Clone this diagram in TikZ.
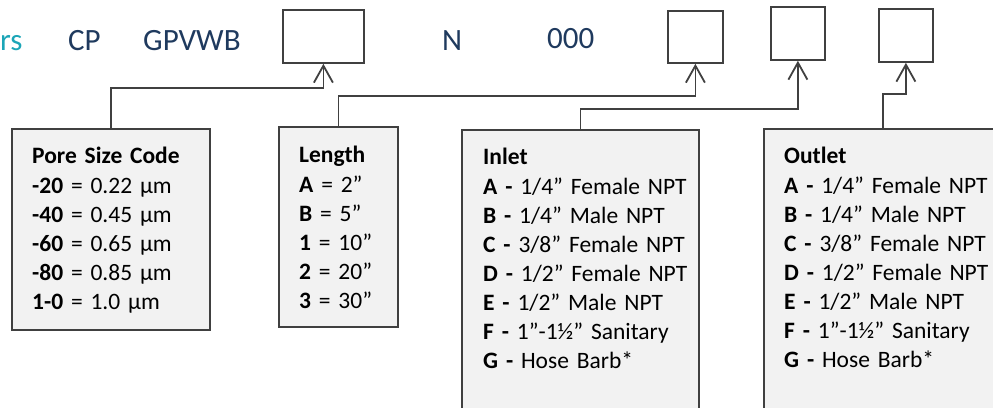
\documentclass[tikz,border=0pt]{standalone}
\usepackage{fontspec}
\setmainfont{Carlito}
\usetikzlibrary{arrows.meta}
\definecolor{navy}{HTML}{1F3A5E}
\definecolor{teal2}{HTML}{1BA5B7}
\definecolor{edge}{HTML}{404040}
\definecolor{boxfill}{HTML}{F2F2F2}
\begin{document}
\begin{tikzpicture}[x=1pt,y=-1pt,
  codebox/.style={draw=edge, line width=1.8pt, fill=white, inner sep=0pt, anchor=north west},
  infobox/.style={draw=edge, line width=1.8pt, fill=boxfill, inner sep=0pt, anchor=north west},
  head/.style={anchor=base west, inner sep=0pt, text=navy, font=\fontsize{31}{36}\selectfont},
  lbl/.style={anchor=base west, inner sep=0pt, text width=230pt, align=left, font=\fontsize{23.5}{29}\selectfont},
  conn/.style={draw=edge, line width=1.8pt, -{Straight Barb[length=17pt,width=19pt]}}]
\useasboundingbox (0,0) rectangle (993,407);
\clip (0,0) rectangle (993,407);
% header texts
\node[head, text=teal2] (trs) at (0,50.5) {rs};
\node[head] (tcp) at (68,50.5) {CP};
\node[head] (tgp) at (143,50.5) {GPVWB};
\node[head] (tn) at (442,50.5) {N};
\node[head] (tz) at (547,48) {000};
% code boxes
\node[codebox, minimum width=81pt, minimum height=53pt] (b1) at (282,9) {};
\node[codebox, minimum width=55pt, minimum height=52pt] (b4) at (667,10) {};
\node[codebox, minimum width=54pt, minimum height=53pt] (b5) at (770,6) {};
\node[codebox, minimum width=54pt, minimum height=53pt] (b6) at (878,8) {};
% info boxes
\node[infobox, minimum width=198pt, minimum height=201pt] (pore) at (11,128) {};
\node[infobox, minimum width=119pt, minimum height=200pt] (len) at (278,126) {};
\node[infobox, minimum width=237pt, minimum height=290pt] (inl) at (461,129) {};
\node[infobox, minimum width=238pt, minimum height=279.5pt] (outl) at (763,128) {};
% texts in boxes
\node[lbl] (tpore) at (32,163.5) {\textbf{Pore Size Code}\\[1pt]
\textbf{-20} = 0.22 µm\\
\textbf{-40} = 0.45 µm\\
\textbf{-60} = 0.65 µm\\
\textbf{-80} = 0.85 µm\\
\textbf{1-0} = 1.0 µm};
\node[lbl] (tlen) at (299,162.5) {\textbf{Length}\\[1pt]
\textbf{A} = 2”\\
\textbf{B} = 5”\\
\textbf{1} = 10”\\
\textbf{2} = 20”\\
\textbf{3} = 30”};
\node[lbl] (tinl) at (483,164) {\textbf{Inlet}\\[1pt]
\textbf{A -} 1/4” Female NPT\\
\textbf{B -} 1/4” Male NPT\\
\textbf{C -} 3/8” Female NPT\\
\textbf{D -} 1/2” Female NPT\\
\textbf{E -} 1/2” Male NPT\\
\textbf{F -} 1”-1½” Sanitary\\
\textbf{G -} Hose Barb*};
\node[lbl] (toutl) at (784,163) {\textbf{Outlet}\\[1pt]
\textbf{A -} 1/4” Female NPT\\
\textbf{B -} 1/4” Male NPT\\
\textbf{C -} 3/8” Female NPT\\
\textbf{D -} 1/2” Female NPT\\
\textbf{E -} 1/2” Male NPT\\
\textbf{F -} 1”-1½” Sanitary\\
\textbf{G -} Hose Barb*};
% levels
\coordinate (lvA) at (0,88);
\coordinate (lvB) at (0,96);
\coordinate (lvC) at (0,109);
\coordinate (lvD) at (0,94);
% connectors
\draw[conn] (pore.north) -- (pore.north |- lvA) -| (b1.south);
\draw[conn] (len.north) -- (len.north |- lvB) -| (b4.south);
\draw[conn] (inl.north) -- (inl.north |- lvC) -| (b5.south);
\draw[conn] (outl.north) -- (outl.north |- lvD) -| (b6.south);
\end{tikzpicture}
\end{document}
